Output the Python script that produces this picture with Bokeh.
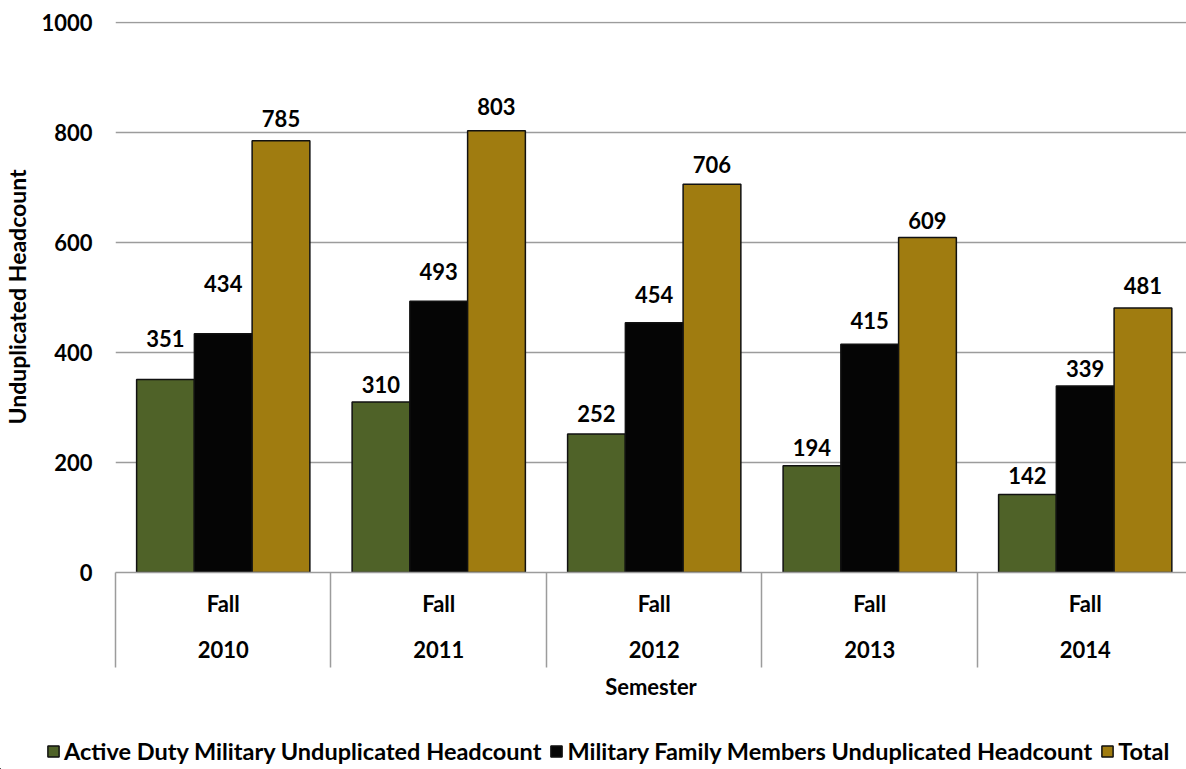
from bokeh.plotting import figure
from bokeh.models import (ColumnDataSource, Range1d, FixedTicker, LinearAxis,
                          Legend, LegendItem)
from bokeh.core.properties import value
from bokeh.embed import file_html
from bokeh.resources import INLINE

# ---- data ----
years = ["2010", "2011", "2012", "2013", "2014"]
term = "Fall"
series_names = ["Active Duty Military Unduplicated Headcount",
                "Military Family Members Unduplicated Headcount",
                "Total"]
active_duty = [351, 310, 252, 194, 142]
family_members = [434, 493, 454, 415, 339]
total = [785, 803, 706, 609, 481]
y_ticks = [0, 200, 400, 600, 800, 1000]

# ---- styles ----
colors = ["#4F6228", "#050505", "#A07C10"]
label_gap_px = [[41, 17, 20, 18, 19],
                [50, 30, 28, 24, 18],
                [22, 24, 20, 17, 22]]
FONT = "Lato"
FS = "22px"
FS_TITLE = "23px"
FS_LEG = "23.5px"
GRID = "#9c9c9c"
bar_w = 0.268
offsets = [-bar_w, 0.0, bar_w]

p = figure(width=1186, height=725, output_backend="svg", toolbar_location=None,
           x_range=Range1d(0, 4.97), y_range=Range1d(0, 1001.8),
           min_border_top=21, min_border_right=0, min_border_left=113,
           min_border_bottom=153)
p.outline_line_color = None
p.background_fill_color = "white"
p.border_fill_color = "white"

centers = [i + 0.5 for i in range(len(years))]
series = [active_duty, family_members, total]
for k, (name, vals) in enumerate(zip(series_names, series)):
    src = ColumnDataSource(dict(
        x=[c + offsets[k] for c in centers],
        top=vals,
        lbl=[str(v) for v in vals],
        yoff=[-g for g in label_gap_px[k]],
    ))
    p.vbar(x="x", top="top", bottom=0, width=bar_w, source=src,
           fill_color=colors[k], line_color="#111111", line_width=1.5)
    p.text(x="x", y="top", text="lbl", y_offset="yoff", source=src,
           text_align="center", text_baseline="middle",
           text_font=value(FONT), text_font_style="bold",
           text_font_size=FS, text_color="black")

# y axis
p.yaxis.ticker = FixedTicker(ticks=y_ticks)
p.yaxis.axis_line_color = None
p.yaxis.major_tick_line_color = None
p.yaxis.minor_tick_line_color = None
p.yaxis.major_tick_out = 0
p.yaxis.major_tick_in = 0
p.yaxis.major_label_standoff = 23
p.yaxis.major_label_text_font = FONT
p.yaxis.major_label_text_font_style = "bold"
p.yaxis.major_label_text_font_size = FS
p.yaxis.major_label_text_color = "black"
p.yaxis.axis_label = "Unduplicated Headcount"
p.yaxis.axis_label_text_font = FONT
p.yaxis.axis_label_text_font_style = "bold"
p.yaxis.axis_label_text_font_size = FS_TITLE
p.yaxis.axis_label_text_color = "black"
p.yaxis.axis_label_standoff = 7

p.ygrid.ticker = FixedTicker(ticks=y_ticks)
p.ygrid.grid_line_color = GRID
p.ygrid.grid_line_width = 1.5
p.xgrid.visible = False

# x axis 1: term labels + group separators
ax1 = p.xaxis[0]
ax1.ticker = FixedTicker(ticks=centers, minor_ticks=list(range(len(years) + 1)))
ax1.major_label_overrides = {c: term for c in centers}
ax1.axis_line_color = GRID
ax1.axis_line_width = 1.5
ax1.major_tick_line_color = None
ax1.minor_tick_line_color = GRID
ax1.minor_tick_line_width = 1.5
ax1.minor_tick_in = 0
ax1.minor_tick_out = 95
ax1.major_tick_out = 0
ax1.major_tick_in = 0
ax1.major_label_standoff = -78
ax1.major_label_text_font = FONT
ax1.major_label_text_font_style = "bold"
ax1.major_label_text_font_size = FS
ax1.major_label_text_color = "black"

# x axis 2: years + axis title
ax2 = LinearAxis(ticker=FixedTicker(ticks=centers))
ax2.major_label_overrides = {c: y for c, y in zip(centers, years)}
ax2.axis_line_color = None
ax2.major_tick_line_color = None
ax2.minor_tick_line_color = None
ax2.major_tick_out = 0
ax2.major_tick_in = 0
ax2.major_label_standoff = 21
ax2.major_label_text_font = FONT
ax2.major_label_text_font_style = "bold"
ax2.major_label_text_font_size = FS
ax2.major_label_text_color = "black"
ax2.axis_label = "Semester"
ax2.axis_label_text_font = FONT
ax2.axis_label_text_font_style = "bold"
ax2.axis_label_text_font_size = FS
ax2.axis_label_text_color = "black"
ax2.axis_label_standoff = 12
p.add_layout(ax2, "below")

# legend strip: its bar renderers map far outside its visible ranges,
# so only the legend entries are seen
lg = figure(width=1186, height=44, output_backend="svg", toolbar_location=None,
            x_range=Range1d(100, 101), y_range=Range1d(5000, 5001),
            x_axis_type=None, y_axis_type=None,
            min_border_top=0, min_border_bottom=0, min_border_left=0,
            min_border_right=0)
lg.outline_line_color = None
lg.grid.visible = False
lg.border_fill_color = "white"
items = []
for k, (name, vals) in enumerate(zip(series_names, series)):
    r = lg.vbar(x=centers, top=vals, bottom=0, width=bar_w,
                fill_color=colors[k], line_color="#111111", line_width=1.5)
    items.append(LegendItem(label=name, renderers=[r]))
legend = Legend(items=items, orientation="horizontal", location=(46, 4),
                label_text_font=FONT, label_text_font_style="bold",
                label_text_font_size=FS_LEG, label_text_color="black",
                glyph_width=14, glyph_height=14, label_standoff=4,
                spacing=8, padding=0, margin=0,
                border_line_color=None, background_fill_alpha=0)
lg.add_layout(legend, "center")

open("out.html", "w").write(file_html([p, lg], INLINE))
